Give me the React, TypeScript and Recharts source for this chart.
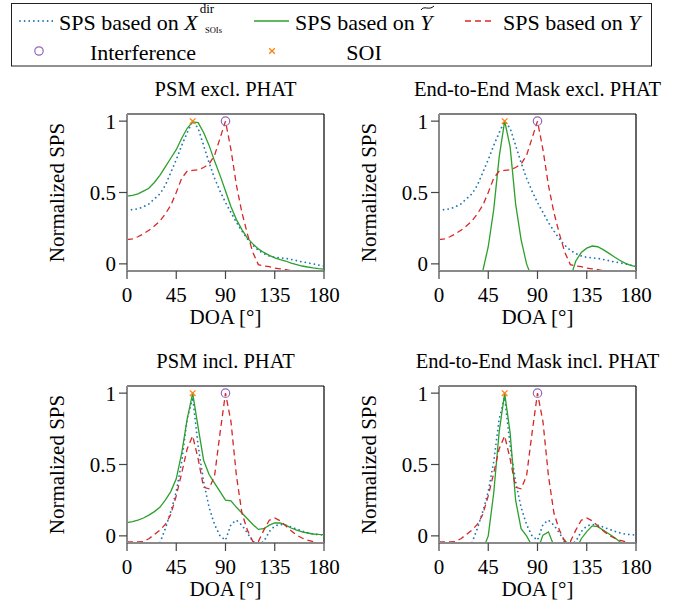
import React from "react";
import {
  ComposedChart,
  Line,
  XAxis,
  YAxis,
  ReferenceLine,
  ReferenceDot,
} from "recharts";

const FONT = "Liberation Serif, Times New Roman, Tinos, DejaVu Serif, serif";

const C_BLUE = "#1f77b4";
const C_GREEN = "#2ca02c";
const C_RED = "#d62728";
const C_ORANGE = "#ff7f0e";
const C_PURPLE = "#9467bd";

// DOA grid in degrees
const DOA = [
  0, 5, 10, 15, 20, 25, 30, 35, 40, 45, 50, 55, 60, 65, 70, 75, 80, 85, 90,
  95, 100, 105, 110, 115, 120, 125, 130, 135, 140, 145, 150, 155, 160, 165,
  170, 175, 180,
];
const X_TICKS = [0, 45, 90, 135, 180];
const Y_TICKS = [0, 0.5, 1];

const SOI_DOA = 60;
const INTERFERENCE_DOA = 90;
const PEAK = 1;

// SPS based on X^dir_SOIs
const DIR_EXCL = [
  0.375, 0.38, 0.385, 0.4, 0.42, 0.455, 0.49, 0.55, 0.64, 0.73, 0.83, 0.92,
  1.0, 0.95, 0.83, 0.71, 0.6, 0.51, 0.43, 0.36, 0.29, 0.23, 0.175, 0.13,
  0.095, 0.072, 0.055, 0.046, 0.042, 0.038, 0.031, 0.023, 0.014, 0.007, 0.0,
  -0.008, -0.015,
];
const DIR_INCL = [
  -0.1, -0.1, -0.1, -0.1, -0.1, -0.1, -0.05, 0.05, 0.17, 0.31, 0.52, 0.82,
  0.97, 0.63, 0.38, 0.2, 0.08, 0.0, -0.03, 0.08, 0.11, 0.075, 0.02, -0.04,
  -0.06, -0.04, 0.03, 0.07, 0.08, 0.075, 0.062, 0.048, 0.033, 0.022, 0.013,
  0.008, 0.005,
];

// SPS based on Y
const MIX_EXCL = [
  0.17, 0.175, 0.19, 0.21, 0.235, 0.265, 0.3, 0.35, 0.41, 0.5, 0.6, 0.65,
  0.655, 0.66, 0.675, 0.7, 0.76, 0.88, 1.0, 0.8, 0.55, 0.36, 0.21, 0.08,
  -0.005, -0.015, -0.02, -0.03, -0.035, -0.04, -0.048, -0.06, -0.07, -0.08,
  -0.09, -0.1, -0.1,
];
const MIX_INCL = [
  -0.042, -0.042, -0.042, -0.04, -0.02, 0.01, 0.04, 0.08, 0.15, 0.28, 0.44,
  0.61, 0.7, 0.54, 0.34, 0.33, 0.42, 0.72, 1.0, 0.8, 0.42, 0.16, 0.04, -0.04,
  -0.04, 0.04, 0.11, 0.125, 0.105, 0.07, 0.035, 0.005, -0.015, -0.03, -0.04,
  -0.05, -0.05,
];

// SPS based on Y-tilde (mask output)
const PSM_EXCL = [
  0.475, 0.48, 0.49, 0.51, 0.53, 0.57, 0.62, 0.68, 0.74, 0.8, 0.88, 0.95,
  0.995, 0.99, 0.92, 0.83, 0.72, 0.62, 0.51, 0.4, 0.31, 0.24, 0.18, 0.14,
  0.105, 0.08, 0.06, 0.042, 0.03, 0.02, 0.005, -0.005, -0.015, -0.022, -0.028,
  -0.033, -0.037,
];
const E2E_EXCL = [
  -0.2, -0.2, -0.2, -0.2, -0.2, -0.2, -0.2, -0.2, -0.05, 0.12, 0.38, 0.75,
  1.0, 0.82, 0.42, 0.17, 0.0, -0.1, -0.1, -0.05, -0.1, -0.1, -0.1, -0.1,
  -0.1, 0.02, 0.08, 0.11, 0.125, 0.12, 0.1, 0.075, 0.05, 0.025, 0.005, -0.01,
  -0.02,
];
const PSM_INCL = [
  0.093, 0.1, 0.11, 0.125, 0.145, 0.17, 0.2, 0.25, 0.31, 0.4, 0.58, 0.82, 1.0,
  0.76, 0.53, 0.43, 0.37, 0.31, 0.25, 0.245, 0.2, 0.16, 0.12, 0.08, 0.045,
  0.05, 0.075, 0.09, 0.09, 0.075, 0.055, 0.04, 0.028, 0.02, 0.013, 0.01,
  0.008,
];
const E2E_INCL = [
  -0.2, -0.2, -0.2, -0.2, -0.2, -0.2, -0.2, -0.2, -0.1, 0.0, 0.3, 0.73, 1.0,
  0.72, 0.25, 0.05, 0.0, -0.07, -0.1, 0.005, 0.028, -0.07, -0.1, -0.03, -0.1,
  -0.1, -0.02, 0.03, 0.07, 0.065, 0.04, 0.015, -0.01, -0.04, -0.06, -0.08,
  -0.1,
];

const buildRows = (dir: number[], tilde: number[], mix: number[]) =>
  DOA.map((d, i) => ({ doa: d, dir: dir[i], tilde: tilde[i], mix: mix[i] }));

const Cross = (props: any) => {
  const { cx, cy } = props;
  const s = 2.8;
  return (
    <g stroke={C_ORANGE} strokeWidth={1.3}>
      <line x1={cx - s} y1={cy - s} x2={cx + s} y2={cy + s} />
      <line x1={cx - s} y1={cy + s} x2={cx + s} y2={cy - s} />
    </g>
  );
};

const Ring = (props: any) => {
  const { cx, cy } = props;
  return <circle cx={cx} cy={cy} r={4.2} fill="none" stroke={C_PURPLE} strokeWidth={1.2} />;
};

const TICK_STYLE = { fill: "#000", fontSize: 21, fontFamily: FONT };

function Panel({
  title,
  dir,
  tilde,
  mix,
  left,
  top,
}: {
  title: string;
  dir: number[];
  tilde: number[];
  mix: number[];
  left: number;
  top: number;
}) {
  const rows = buildRows(dir, tilde, mix);
  return (
    <div style={{ position: "absolute", left, top }}>
      <ComposedChart
        width={340}
        height={262}
        data={rows}
        margin={{ top: 44, right: 36, bottom: 31, left: 27 }}
        style={{ fontFamily: FONT }}
      >
        <XAxis
          dataKey="doa"
          type="number"
          domain={[0, 180]}
          ticks={X_TICKS}
          allowDataOverflow
          height={30}
          axisLine={{ stroke: "#8a8a8a", strokeWidth: 2 }}
          tickLine={{ stroke: "#444", strokeWidth: 1.2 }}
          tickSize={8}
          tickMargin={8}
          tick={TICK_STYLE}
          label={{
            value: "DOA [°]",
            position: "bottom",
            offset: 8,
            fill: "#000",
            fontSize: 21,
            fontFamily: FONT,
          }}
        />
        <YAxis
          type="number"
          domain={[-0.05, 1.05]}
          ticks={Y_TICKS}
          allowDataOverflow
          width={80}
          axisLine={{ stroke: "#8a8a8a", strokeWidth: 2 }}
          tickLine={{ stroke: "#444", strokeWidth: 1.2 }}
          tickSize={8}
          tickMargin={3}
          tick={TICK_STYLE}
          tickFormatter={(v: number) => String(v)}
          label={{
            value: "Normalized SPS",
            angle: -90,
            position: "insideLeft",
            offset: 9.5,
            fill: "#000",
            fontSize: 21,
            fontFamily: FONT,
            style: { textAnchor: "middle" },
          }}
        />
        <ReferenceLine
          y={1.05}
          stroke="#000"
          strokeWidth={1.2}
          label={{
            value: title,
            position: "top",
            offset: 18,
            fill: "#000",
            fontSize: 20.5,
            fontFamily: FONT,
          }}
        />
        <ReferenceLine x={180} stroke="#000" strokeWidth={1.2} />
        <Line
          dataKey="dir"
          type="linear"
          stroke={C_BLUE}
          strokeWidth={1.8}
          strokeDasharray="0.01 4.6"
          strokeLinecap="round"
          dot={false}
          isAnimationActive={false}
        />
        <Line
          dataKey="tilde"
          type="linear"
          stroke={C_GREEN}
          strokeWidth={1.3}
          dot={false}
          isAnimationActive={false}
        />
        <Line
          dataKey="mix"
          type="linear"
          stroke={C_RED}
          strokeWidth={1.3}
          strokeDasharray="6 4"
          dot={false}
          isAnimationActive={false}
        />
        <ReferenceDot x={SOI_DOA} y={PEAK} shape={Cross} />
        <ReferenceDot x={INTERFERENCE_DOA} y={PEAK} shape={Ring} />
      </ComposedChart>
    </div>
  );
}

function LegendBox() {
  const t = { fontFamily: FONT, fontSize: 22, fill: "#000" };
  return (
    <svg width={680} height={72} style={{ position: "absolute", left: 0, top: 0, fontFamily: FONT }}>
      <rect x={11.5} y={3.5} width={640} height={62.5} fill="none" stroke="#222" strokeWidth={1} />
      <line x1={20} y1={21} x2={55} y2={21} stroke={C_BLUE} strokeWidth={1.8} strokeDasharray="0.01 4.6" strokeLinecap="round" />
      <text x={59} y={30} {...t}>
        SPS based on <tspan fontStyle="italic">X</tspan>
        <tspan fontSize={13} dy={-17} dx={2}>dir</tspan>
      </text>
      <text x={205} y={33} fontFamily={FONT} fontSize={8.5}>SOIs</text>

      <line x1={254} y1={21} x2={289} y2={21} stroke={C_GREEN} strokeWidth={1.3} />
      <text x={295} y={30} {...t}>
        SPS based on <tspan fontStyle="italic">Y</tspan>
      </text>
      <path d="M 421 10 C 424 5, 429 11, 434 6" fill="none" stroke="#000" strokeWidth={1} />

      <line x1={465} y1={21} x2={495} y2={21} stroke={C_RED} strokeWidth={1.3} strokeDasharray="6 4" />
      <text x={503} y={30} {...t}>
        SPS based on <tspan fontStyle="italic">Y</tspan>
      </text>

      <circle cx={39} cy={51} r={4.2} fill="none" stroke={C_PURPLE} strokeWidth={1.2} />
      <text x={143} y={60} textAnchor="middle" {...t}>Interference</text>
      <g stroke={C_ORANGE} strokeWidth={1.3}>
        <line x1={269.2} y1={48.2} x2={274.8} y2={53.8} />
        <line x1={269.2} y1={53.8} x2={274.8} y2={48.2} />
      </g>
      <text x={364} y={60} textAnchor="middle" {...t}>SOI</text>
    </svg>
  );
}

export default function App() {
  return (
    <div
      style={{
        position: "absolute",
        left: 0,
        top: 0,
        width: 680,
        height: 605,
        background: "#fff",
        fontFamily: FONT,
        overflow: "hidden",
      }}
    >
      <LegendBox />
      <Panel title="PSM excl. PHAT" dir={DIR_EXCL} tilde={PSM_EXCL} mix={MIX_EXCL} left={20} top={70} />
      <Panel
        title="End-to-End Mask excl. PHAT"
        dir={DIR_EXCL}
        tilde={E2E_EXCL}
        mix={MIX_EXCL}
        left={332}
        top={70}
      />
      <Panel title="PSM incl. PHAT" dir={DIR_INCL} tilde={PSM_INCL} mix={MIX_INCL} left={20} top={342} />
      <Panel
        title="End-to-End Mask incl. PHAT"
        dir={DIR_INCL}
        tilde={E2E_INCL}
        mix={MIX_INCL}
        left={332}
        top={342}
      />
    </div>
  );
}
